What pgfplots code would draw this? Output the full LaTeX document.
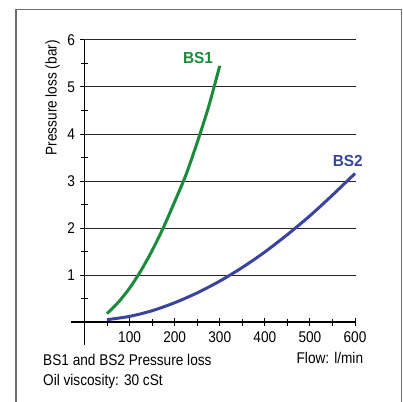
\documentclass[border=0pt]{standalone}
\usepackage{fontspec}
\setmainfont{Liberation Sans}[FakeStretch=0.88]
\newfontfamily\bsfont{Liberation Sans}[FakeStretch=0.96]
\usepackage{pgfplots}
\pgfplotsset{compat=1.18}
\definecolor{bsgreen}{RGB}{27,138,58}
\definecolor{bsblue}{RGB}{58,68,158}
\definecolor{framegray}{RGB}{110,110,110}
\begin{document}
\begin{tikzpicture}[x=1bp,y=1bp]
\useasboundingbox (0,0) rectangle (403,402);
\draw[framegray, line width=1.2bp] (16,-2) -- (16,392.3) -- (401.5,392.3) -- (401.5,-2);
\begin{axis}[
  at={(70.5bp,57bp)}, anchor=south west,
  scale only axis, width=284.5bp, height=305bp,
  xmin=-31, xmax=600, ymin=-0.489, ymax=6,
  axis lines=middle, axis line style={-, line width=1.3bp},
  xtick={100,200,...,600}, minor xtick={50,150,...,550},
  ytick={1,...,6}, minor ytick={0.5,1.5,...,5.5},
  tick align=center, major tick length=8bp, minor tick length=7bp,
  tick style={black, line width=1bp},
  font=\fontsize{15.5bp}{18bp}\selectfont,
  /pgf/number format/assume math mode=true,
  /pgf/number format/1000 sep={},
  xticklabel style={anchor=north, yshift=-2bp},
  yticklabel style={anchor=east, xshift=-2bp},
  clip=false,
]
\pgfplotsinvokeforeach{1,...,6}{\draw[line width=1bp, black!85] (axis cs:0,#1) -- (axis cs:602,#1);}
\addplot[bsgreen, line width=3bp, smooth] coordinates {
(50,0.18) (75,0.42) (100,0.72) (125,1.09) (150,1.52) (175,2.01) (200,2.56) (225,3.13) (250,3.82) (275,4.57) (300,5.45)};
\addplot[bsblue, line width=3bp, smooth] coordinates {
(50,0.05) (100,0.12) (150,0.24) (200,0.41) (250,0.62) (300,0.87) (350,1.16) (400,1.49) (450,1.86) (500,2.26) (550,2.70) (600,3.16)};
\end{axis}
\node[anchor=base, inner sep=0, text=bsgreen, font={\bsfont\fontsize{16bp}{19bp}\selectfont\bfseries}] at (198,338.7) {BS1};
\node[anchor=base, inner sep=0, text=bsblue, font={\bsfont\fontsize{16bp}{19bp}\selectfont\bfseries}] at (347.7,235.3) {BS2};
\node[anchor=base west, inner sep=0, font=\fontsize{15.5bp}{18bp}\selectfont] at (43,36.3) {BS1 and BS2 Pressure loss};
\node[anchor=base west, inner sep=0, font=\fontsize{15.5bp}{18bp}\selectfont] at (43,16.3) {Oil viscosity: 30 cSt};
\node[anchor=base east, inner sep=0, font=\fontsize{15.5bp}{18bp}\selectfont] at (363.3,38.7) {Flow: l/min};
\node[anchor=base east, rotate=90, inner sep=0, font=\fontsize{15.5bp}{18bp}\selectfont] at (56.7,362) {Pressure loss (bar)};
\end{tikzpicture}
\end{document}
